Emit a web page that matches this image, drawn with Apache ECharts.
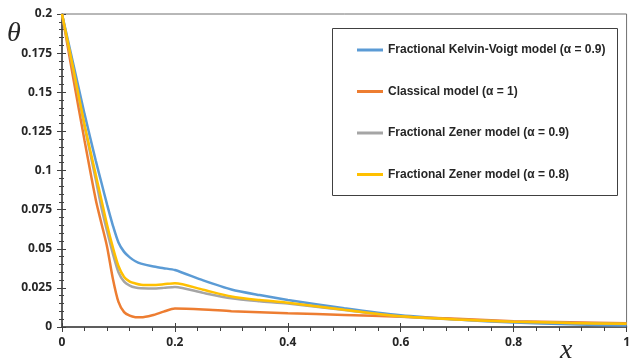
<!DOCTYPE html>
<html lang="en">
  <head>
    <meta charset="utf-8">
    <title>theta vs x</title>
    <style>
      html, body { margin: 0; padding: 0; background: #fff; }
      #chart { width: 633px; height: 358px; }
    </style>
  </head>
  <body>
    <div id="chart"></div>
    <script src="https://cdn.jsdelivr.net/npm/echarts@6/dist/echarts.min.js"></script>
    <script>
      // x positions shared by all curves
      var xs = [0, 0.02, 0.04, 0.06, 0.07, 0.08, 0.09, 0.1, 0.11, 0.12, 0.13, 0.14, 0.16, 0.18, 0.2,
                0.25, 0.3, 0.35, 0.4, 0.5, 0.6, 0.7, 0.8, 0.9, 1];

      // theta values
      var kelvinVoigt09 = [0.2, 0.168, 0.136, 0.106, 0.092, 0.078, 0.065, 0.054, 0.048, 0.0445, 0.042, 0.0405, 0.0388, 0.0376, 0.0364,
                           0.0298, 0.024, 0.0204, 0.0173, 0.012, 0.0075, 0.0048, 0.0028, 0.0017, 0.001];
      var classical1    = [0.2, 0.159, 0.119, 0.081, 0.066, 0.051, 0.031, 0.016, 0.0095, 0.0072, 0.0063, 0.0062, 0.0075, 0.0098, 0.0118,
                           0.0112, 0.0101, 0.0094, 0.0088, 0.0077, 0.0066, 0.0052, 0.0037, 0.003, 0.0024];
      var zener09       = [0.2, 0.164, 0.128, 0.094, 0.076, 0.061, 0.047, 0.035, 0.029, 0.0265, 0.0252, 0.0247, 0.0246, 0.025, 0.0256,
                           0.0218, 0.0184, 0.0165, 0.015, 0.0108, 0.0067, 0.0048, 0.0034, 0.0026, 0.0019];
      var zener08       = [0.2, 0.165, 0.129, 0.097, 0.081, 0.065, 0.051, 0.039, 0.032, 0.029, 0.0278, 0.027, 0.0268, 0.0273, 0.028,
                           0.0238, 0.0195, 0.0172, 0.0155, 0.011, 0.0068, 0.0048, 0.0034, 0.0026, 0.002];

      var seriesNames = ['Fractional Kelvin-Voigt model (\u03b1 = 0.9)', 'Classical model (\u03b1 = 1)',
                         'Fractional Zener model (\u03b1 = 0.9)', 'Fractional Zener model (\u03b1 = 0.8)'];
      var seriesValues = [kelvinVoigt09, classical1, zener09, zener08];
      var seriesColors = ['#5B9BD5', '#ED7D31', '#A5A5A5', '#FFC000'];

      var labelFont = { color: '#262626', fontWeight: 'bold', fontSize: 12, fontFamily: 'Open Sans' };

      function pairs(vals) {
        return xs.map(function (x, i) { return [x, vals[i]]; });
      }

      var series = seriesValues.map(function (vals, i) {
        return {
          name: seriesNames[i],
          type: 'line',
          data: pairs(vals),
          showSymbol: false,
          smooth: 0.25,
          lineStyle: { color: seriesColors[i], width: 2.5 },
          itemStyle: { color: seriesColors[i] },
          z: 3 + i
        };
      });

      var myChart = echarts.init(document.getElementById('chart'));
      myChart.setOption({
        animation: false,
        grid: { left: 62, right: 2, top: 14, bottom: 31, show: true, borderColor: '#707070', borderWidth: 1 },
        legend: {
          orient: 'vertical',
          left: 352, top: 39,
          itemWidth: 26, itemHeight: 3, itemGap: 29.5,
          icon: 'rect',
          textStyle: { color: '#262626', fontWeight: 'bold', fontSize: 12, fontFamily: 'Liberation Sans' },
          data: seriesNames
        },
        xAxis: [{
          type: 'value', min: 0, max: 1, interval: 0.2,
          axisLine: { lineStyle: { color: '#404040', width: 1.5 } },
          axisTick: { show: true, length: 5, lineStyle: { color: '#404040' } },
          minorTick: { show: true, splitNumber: 5, length: 4, lineStyle: { color: '#404040' } },
          splitLine: { show: false },
          axisLabel: Object.assign({ margin: 10 }, labelFont)
        }, {
          type: 'value', min: 0, max: 1, interval: 0.2, position: 'bottom',
          axisLine: { show: false },
          axisTick: { show: true, inside: true, length: 4, lineStyle: { color: '#404040' } },
          splitLine: { show: false },
          axisLabel: { show: false }
        }],
        yAxis: [{
          type: 'value', min: 0, max: 0.2, interval: 0.025,
          axisLine: { show: true, lineStyle: { color: '#404040', width: 1.5 } },
          axisTick: { show: true, length: 5, lineStyle: { color: '#404040' } },
          minorTick: { show: true, splitNumber: 5, length: 3, lineStyle: { color: '#404040' } },
          splitLine: { show: false },
          axisLabel: Object.assign({ margin: 10 }, labelFont)
        }, {
          type: 'value', min: 0, max: 0.2, interval: 0.025, position: 'left',
          axisLine: { show: false },
          axisTick: { show: true, inside: true, length: 4, lineStyle: { color: '#404040' } },
          minorTick: { show: true, splitNumber: 5, length: 2, lineStyle: { color: '#404040' } },
          splitLine: { show: false },
          axisLabel: { show: false }
        }],
        graphic: [
          { type: 'rect', left: 332, top: 28, z: 10, silent: true,
            shape: { width: 285, height: 167 },
            style: { fill: 'transparent', stroke: '#404040', lineWidth: 1 } },
          { type: 'text', left: 7, top: 20, z: 10,
            style: { text: '\u03b8', fill: '#262626', font: 'italic 28px "Liberation Serif"' } },
          { type: 'text', left: 560, top: 337, z: 10,
            style: { text: 'x', fill: '#262626', font: 'italic 28px "Liberation Serif"' } }
        ],
        series: series
      });
    </script>
  </body>
</html>
